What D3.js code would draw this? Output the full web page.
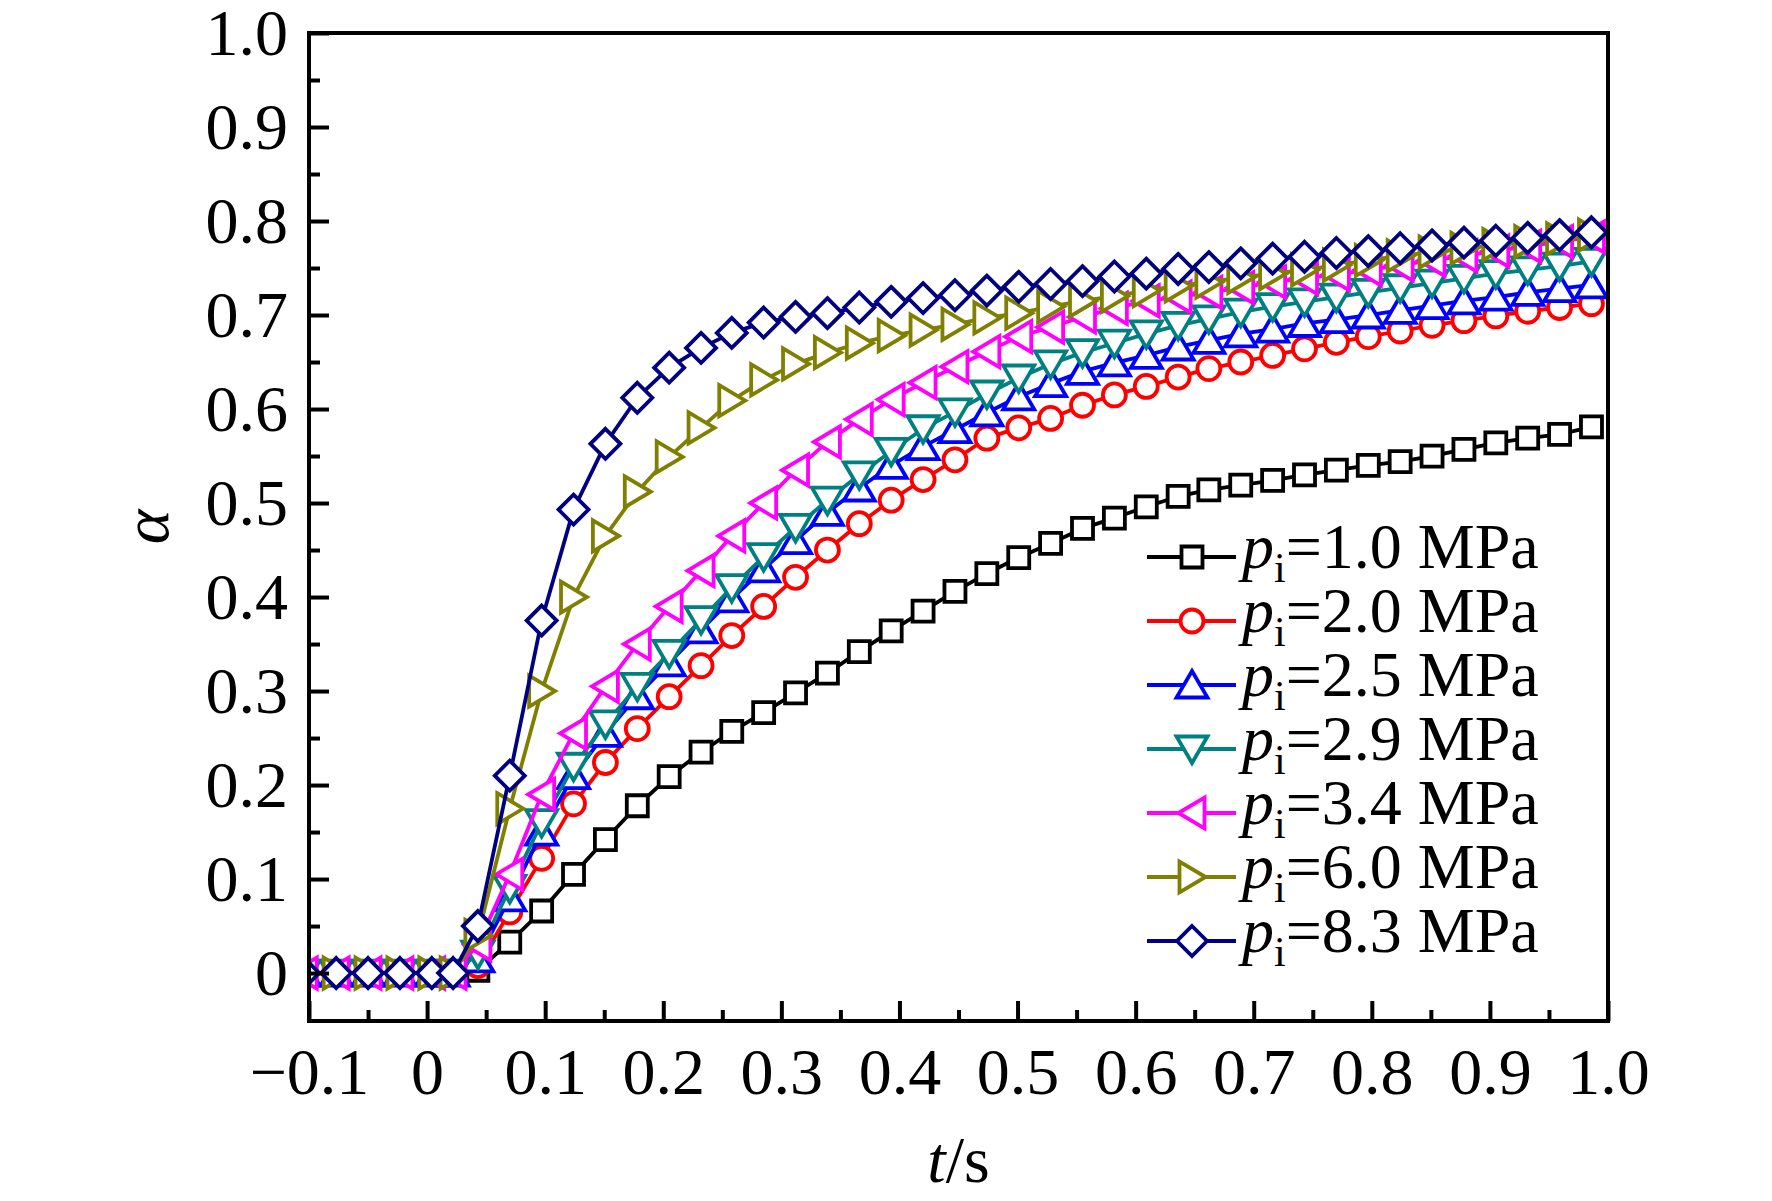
<!DOCTYPE html>
<html>
<head>
<meta charset="utf-8">
<script src="https://cdn.jsdelivr.net/npm/d3@7"></script>
<style>
  body { margin: 0; background: #fff; }
  svg { display: block; font-family: "Liberation Serif", "Times New Roman", serif; }
</style>
</head>
<body>
<svg id="chart" width="1772" height="1201"></svg>
<script>
// time samples (s)
const tValues = [-0.104, -0.077, -0.050, -0.023, 0.004, 0.022,
    0.043, 0.070, 0.097, 0.124, 0.151, 0.178, 0.205, 0.232, 0.258, 0.285,
    0.312, 0.339, 0.366, 0.393, 0.420, 0.447, 0.474, 0.501, 0.528, 0.555,
    0.582, 0.609, 0.636, 0.662, 0.689, 0.716, 0.743, 0.770, 0.797, 0.824,
    0.851, 0.878, 0.905, 0.932, 0.959, 0.986];

const pressures = ["1.0", "2.0", "2.5", "2.9", "3.4", "6.0", "8.3"];

const alpha1_0 = [0, 0, 0, 0, 0, 0,
    0.003, 0.033, 0.066, 0.105, 0.142, 0.178, 0.209, 0.235, 0.257, 0.277,
    0.298, 0.319, 0.342, 0.364, 0.385, 0.406, 0.425, 0.442, 0.457, 0.473,
    0.484, 0.496, 0.507, 0.514, 0.519, 0.524, 0.530, 0.535, 0.540, 0.544,
    0.550, 0.557, 0.564, 0.569, 0.573, 0.581];
const alpha2_0 = [0, 0, 0, 0, 0, 0,
    0.008, 0.065, 0.122, 0.180, 0.224, 0.260, 0.294, 0.327, 0.359, 0.390,
    0.421, 0.450, 0.478, 0.503, 0.525, 0.546, 0.569, 0.580, 0.590, 0.604,
    0.615, 0.624, 0.634, 0.643, 0.650, 0.657, 0.664, 0.671, 0.677, 0.683,
    0.689, 0.694, 0.699, 0.704, 0.708, 0.712];
const alpha2_5 = [0, 0, 0, 0, 0, 0,
    0.015, 0.080, 0.150, 0.210, 0.255, 0.295, 0.330, 0.365, 0.398, 0.430,
    0.460, 0.490, 0.516, 0.540, 0.560, 0.578, 0.596, 0.613, 0.627, 0.640,
    0.649, 0.657, 0.666, 0.673, 0.680, 0.685, 0.691, 0.695, 0.700, 0.705,
    0.710, 0.715, 0.719, 0.724, 0.728, 0.732];
const alpha2_9 = [0, 0, 0, 0, 0, 0,
    0.020, 0.090, 0.160, 0.220, 0.265, 0.305, 0.340, 0.376, 0.410, 0.443,
    0.474, 0.503, 0.530, 0.555, 0.579, 0.597, 0.616, 0.633, 0.648, 0.660,
    0.670, 0.680, 0.689, 0.696, 0.703, 0.709, 0.714, 0.719, 0.724, 0.729,
    0.734, 0.739, 0.744, 0.748, 0.752, 0.757];
const alpha3_4 = [0, 0, 0, 0, 0, 0,
    0.030, 0.105, 0.190, 0.255, 0.305, 0.350, 0.390, 0.428, 0.465, 0.500,
    0.535, 0.565, 0.589, 0.610, 0.628, 0.645, 0.661, 0.677, 0.687, 0.698,
    0.707, 0.715, 0.719, 0.724, 0.729, 0.735, 0.739, 0.743, 0.748, 0.753,
    0.758, 0.763, 0.768, 0.773, 0.778, 0.783];
const alpha6_0 = [0, 0, 0, 0, 0, 0,
    0.040, 0.175, 0.300, 0.400, 0.465, 0.512, 0.549, 0.580, 0.609, 0.631,
    0.648, 0.660, 0.670, 0.678, 0.684, 0.690, 0.697, 0.702, 0.709, 0.715,
    0.720, 0.726, 0.731, 0.735, 0.740, 0.744, 0.748, 0.753, 0.758, 0.763,
    0.767, 0.771, 0.775, 0.778, 0.781, 0.785];
const alpha8_3 = [0, 0, 0, 0, 0, 0,
    0.050, 0.210, 0.375, 0.493, 0.563, 0.612, 0.644, 0.665, 0.681, 0.692,
    0.698, 0.702, 0.708, 0.714, 0.718, 0.721, 0.726, 0.730, 0.733, 0.736,
    0.741, 0.744, 0.749, 0.751, 0.755, 0.760, 0.762, 0.766, 0.768, 0.771,
    0.774, 0.777, 0.779, 0.782, 0.785, 0.788];

const xTickLabels = ["\u22120.1", "0", "0.1", "0.2", "0.3", "0.4", "0.5", "0.6", "0.7", "0.8", "0.9", "1.0"];
const yTickLabels = ["0", "0.1", "0.2", "0.3", "0.4", "0.5", "0.6", "0.7", "0.8", "0.9", "1.0"];

const seriesValues = [alpha1_0, alpha2_0, alpha2_5, alpha2_9, alpha3_4, alpha6_0, alpha8_3];

// styles
const colors = ["#000000", "#ff0000", "#0000ff", "#008080", "#ff00ff", "#808000", "#000080"];
const symbols = ["square", "circle", "up", "down", "left", "right", "diamond"];

const plotLeft = 309, plotRight = 1608, plotTop = 33, plotBottom = 1021;
const fontSize = "66px";

const svg = d3.select("#chart");

const x = d3.scaleLinear().domain([-0.1, 1.0]).range([plotLeft, plotRight]);
const y = d3.scaleLinear().domain([-0.051, 1.0]).range([plotBottom, plotTop]);

function markerPath(type) {
    switch (type) {
        case "square": return "M-10.5,-10.5H10.5V10.5H-10.5Z";
        case "circle": return "M11.5,0A11.5,11.5 0 1,1 -11.5,0A11.5,11.5 0 1,1 11.5,0Z";
        case "up": return "M0,-14L15.5,12.5H-15.5Z";
        case "down": return "M0,14L15.5,-12.5H-15.5Z";
        case "left": return "M-13.5,0L12.5,-15.5V15.5Z";
        case "right": return "M13.5,0L-12.5,-15.5V15.5Z";
        case "diamond": return "M0,-15L15,0L0,15L-15,0Z";
    }
}

svg.append("clipPath").attr("id", "plotClip")
    .append("rect")
    .attr("x", plotLeft).attr("y", plotTop)
    .attr("width", plotRight - plotLeft).attr("height", plotBottom - plotTop);

const plot = svg.append("g").attr("clip-path", "url(#plotClip)");

const line = d3.line()
    .x((d, i) => x(tValues[i]))
    .y(d => y(d));

seriesValues.forEach(function (vals, s) {
    const g = plot.append("g");
    g.append("path")
        .attr("d", line(vals))
        .attr("fill", "none")
        .attr("stroke", colors[s])
        .attr("stroke-width", 3.8)
        .attr("stroke-linejoin", "round");
    g.selectAll("path.marker")
        .data(vals)
        .join("path")
        .attr("class", "marker")
        .attr("transform", (d, i) => `translate(${x(tValues[i])},${y(d)})`)
        .attr("d", markerPath(symbols[s]))
        .attr("fill", "#fff")
        .attr("stroke", colors[s])
        .attr("stroke-width", 3.8);
});

// axes
const xMajor = d3.range(xTickLabels.length).map(i => -0.1 + i * 0.1);
const xMinor = d3.range(xTickLabels.length - 1).map(i => -0.05 + i * 0.1);
const yMajor = d3.range(yTickLabels.length).map(i => i * 0.1);
const yMinor = d3.range(yTickLabels.length - 1).map(i => 0.05 + i * 0.1);

function styleAxis(g) {
    g.select(".domain").remove();
    g.selectAll("line").attr("stroke", "#000").attr("stroke-width", 4);
    g.selectAll("text")
        .attr("fill", "#000")
        .style("font-size", fontSize)
        .style("font-family", "'Liberation Serif', 'Times New Roman', serif");
}

svg.append("g")
    .attr("transform", `translate(0,${plotBottom})`)
    .call(d3.axisBottom(x).tickValues(xMajor)
        .tickFormat((d, i) => xTickLabels[i])
        .tickSizeInner(-20).tickSizeOuter(0).tickPadding(26))
    .call(styleAxis);

svg.append("g")
    .attr("transform", `translate(0,${plotBottom})`)
    .call(d3.axisBottom(x).tickValues(xMinor).tickFormat("")
        .tickSizeInner(-11).tickSizeOuter(0))
    .call(styleAxis);

svg.append("g")
    .attr("transform", `translate(${plotLeft},0)`)
    .call(d3.axisLeft(y).tickValues(yMajor)
        .tickFormat((d, i) => yTickLabels[i])
        .tickSizeInner(-20).tickSizeOuter(0).tickPadding(21))
    .call(styleAxis);

svg.append("g")
    .attr("transform", `translate(${plotLeft},0)`)
    .call(d3.axisLeft(y).tickValues(yMinor).tickFormat("")
        .tickSizeInner(-11).tickSizeOuter(0))
    .call(styleAxis);

// frame
svg.append("rect")
    .attr("x", plotLeft).attr("y", plotTop)
    .attr("width", plotRight - plotLeft).attr("height", plotBottom - plotTop)
    .attr("fill", "none")
    .attr("stroke", "#000")
    .attr("stroke-width", 4);

// axis titles
const xTitle = svg.append("text")
    .attr("x", (plotLeft + plotRight) / 2)
    .attr("y", 1182)
    .attr("text-anchor", "middle")
    .style("font-size", fontSize);
xTitle.append("tspan").style("font-style", "italic").text("t");
xTitle.append("tspan").text("/s");

svg.append("text")
    .attr("transform", `translate(168,${(plotTop + plotBottom) / 2}) rotate(-90)`)
    .attr("text-anchor", "middle")
    .style("font-size", fontSize)
    .style("font-style", "italic")
    .text("α");

// legend
const legend = svg.append("g");
pressures.forEach(function (p, s) {
    const ly = 557 + s * 64;
    legend.append("line")
        .attr("x1", 1147).attr("x2", 1236)
        .attr("y1", ly).attr("y2", ly)
        .attr("stroke", colors[s])
        .attr("stroke-width", 3.8);
    legend.append("path")
        .attr("transform", `translate(1192,${ly})`)
        .attr("d", markerPath(symbols[s]))
        .attr("fill", "#fff")
        .attr("stroke", colors[s])
        .attr("stroke-width", 3.8);
    const t = legend.append("text")
        .attr("x", 1242)
        .attr("y", ly + 11)
        .style("font-size", "64px");
    t.append("tspan").style("font-style", "italic").text("p");
    t.append("tspan").style("font-size", "42px").attr("dy", 14).text("i");
    t.append("tspan").attr("dy", -14).text(`=${p} MPa`);
});
</script>
</body>
</html>
